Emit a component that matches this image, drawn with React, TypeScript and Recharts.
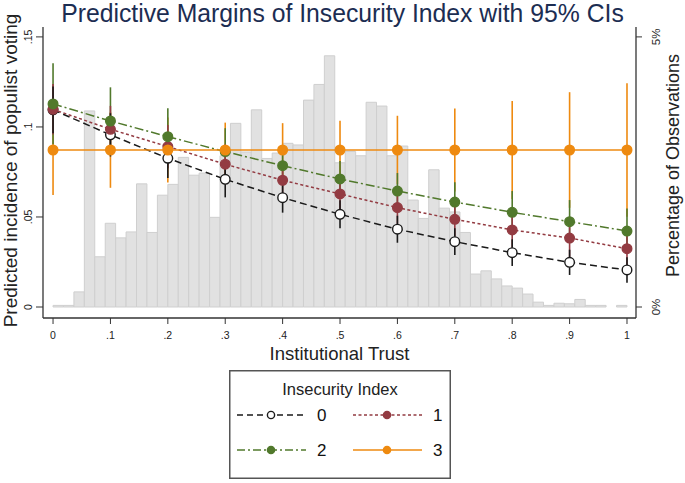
import React from 'react';
import { ComposedChart, Bar, Scatter, XAxis, YAxis, ErrorBar, Legend } from 'recharts';

// institutional trust grid where margins were computed
const trust = [0, 0.1, 0.2, 0.3, 0.4, 0.5, 0.6, 0.7, 0.8, 0.9, 1];

// predicted margins by insecurity index level
const idx0 = [0.1095, 0.0956, 0.0826, 0.0709, 0.0607, 0.0515, 0.0432, 0.0363, 0.0302, 0.0248, 0.0206];
const idx1 = [0.1098, 0.0987, 0.0891, 0.0793, 0.0704, 0.0628, 0.0552, 0.0487, 0.0428, 0.0383, 0.0324];
const idx2 = [0.1128, 0.1033, 0.0946, 0.0863, 0.0785, 0.0711, 0.0644, 0.0583, 0.0526, 0.0474, 0.0422];
const idx3 = [0.0872, 0.0872, 0.0872, 0.0872, 0.0872, 0.0872, 0.0872, 0.0872, 0.0872, 0.0872, 0.0872];

// half widths of the 95% CIs
const ci0 = [0.013, 0.012, 0.011, 0.01, 0.0083, 0.0078, 0.0075, 0.0074, 0.0074, 0.007, 0.0071];
const ci1 = [0.014, 0.013, 0.012, 0.011, 0.01, 0.009, 0.009, 0.0095, 0.01, 0.011, 0.012];
const ci2 = [0.0226, 0.0187, 0.0158, 0.013, 0.011, 0.01, 0.01, 0.011, 0.0118, 0.012, 0.0125];
const ci3 = [0.025, 0.021, 0.018, 0.0152, 0.0149, 0.0163, 0.019, 0.023, 0.0272, 0.0321, 0.0371];

// histogram of institutional trust, 55 bins on [0,1], percent of observations
const histPct = [
  0.03, 0.03, 0.28, 3.63, 0.93, 1.55, 1.28, 1.39, 2.28, 1.38,
  2.07, 2.27, 2.77, 2.44, 2.48, 1.66, 2.8, 3.4, 2.87, 3.65,
  2.75, 2.85, 3.03, 3.0, 3.83, 4.12, 4.65, 2.67, 2.88, 2.8,
  3.79, 3.72, 2.8, 2.98, 1.98, 1.64, 2.54, 1.83, 1.76, 1.38,
  0.61, 0.67, 0.52, 0.39, 0.35, 0.24, 0.09, 0.03, 0.07, 0.06,
  0.14, 0.03, 0.03, 0, 0.03,
];

const xTickLabels = ['0', '.1', '.2', '.3', '.4', '.5', '.6', '.7', '.8', '.9', '1'];
const yTicks = [0, 0.05, 0.1, 0.15];
const yTickLabels = ['0', '.05', '.1', '.15'];
const pctTicks = [0, 5];

const FONT = '"Liberation Sans", Arial, sans-serif';
const X_DOMAIN = [-0.0175, 1.0157];
const Y_DOMAIN = [-0.0061, 0.1555];
const P_DOMAIN = [-0.0061 / 0.03, 0.1555 / 0.03];

const BLACK = '#1a1a1a';
const RED = '#933b42';
const GREEN = '#51792c';
const ORANGE = '#ee8a10';

const histRows = histPct.map((pct, i) => ({ x: (i + 0.5) / histPct.length, pct }));
const mk = (ys: number[], cis: number[]) => trust.map((x, i) => ({ x, y: ys[i], ci: cis[i] }));
const d0 = mk(idx0, ci0);
const d1 = mk(idx1, ci1);
const d2 = mk(idx2, ci2);
const d3 = mk(idx3, ci3);

const noShape = () => <g />;
const dot = (fill: string, stroke: string, r: number) => (p: any) => (
  <circle cx={p.cx} cy={p.cy} r={r} fill={fill} stroke={stroke} strokeWidth={1.4} />
);

const XTick = (p: any) => {
  const i = trust.indexOf(p.payload.value);
  return (
    <text x={p.x} y={p.y + 13} textAnchor="middle" fontSize={10.5} fill="#222" fontFamily={FONT}>
      {xTickLabels[i]}
    </text>
  );
};

const LeftTick = (p: any) => {
  const i = yTicks.indexOf(p.payload.value);
  return (
    <text transform={`translate(32,${p.y}) rotate(-90)`} textAnchor="middle" fontSize={10.5} fill="#222" fontFamily={FONT}>
      {yTickLabels[i]}
    </text>
  );
};

const RightTick = (p: any) => (
  <text transform={`translate(660,${p.y}) rotate(-90)`} textAnchor="middle" fontSize={11.5} fill="#222" fontFamily={FONT}>
    {p.payload.value + '%'}
  </text>
);

const sample = (x: number, y: number, color: string, dash: string | undefined, fill: string) => (
  <g>
    <line x1={x} y1={y} x2={x + 69} y2={y} stroke={color} strokeWidth={1.5} strokeDasharray={dash} />
    <circle cx={x + 34} cy={y} r={3.6} fill={fill} stroke={color} strokeWidth={1.4} />
  </g>
);

const LegendBox = () => (
  <svg width={222} height={109} style={{ display: 'block' }}>
    <rect x={0.75} y={0.75} width={220.5} height={107.5} fill="#fff" stroke="#555" strokeWidth={1.5} />
    <text x={111} y={25} textAnchor="middle" fontSize={16.5} fill="#222" fontFamily={FONT}>Insecurity Index</text>
    {sample(8, 45, BLACK, '6 4', '#fff')}
    <text x={88} y={51} fontSize={17} fill="#111" fontFamily={FONT}>0</text>
    {sample(124, 45, RED, '3 2.5', RED)}
    <text x={204} y={51} fontSize={17} fill="#111" fontFamily={FONT}>1</text>
    {sample(8, 80, GREEN, '8 3 2 3', GREEN)}
    <text x={88} y={86} fontSize={17} fill="#111" fontFamily={FONT}>2</text>
    {sample(124, 80, ORANGE, undefined, ORANGE)}
    <text x={204} y={86} fontSize={17} fill="#111" fontFamily={FONT}>3</text>
  </svg>
);

export default function App() {
  return (
    <div style={{ position: 'absolute', left: 0, top: 0, width: 685, height: 483, background: '#fff', fontFamily: FONT }}>
      <div style={{ position: 'absolute', left: 0, top: 0, width: 685, textAlign: 'center', fontSize: 25, lineHeight: '26px', color: '#1c2d52', fontFamily: FONT, transform: 'scaleX(0.99)' }}>
        Predictive Margins of Insecurity Index with 95% CIs
      </div>
      <ComposedChart width={685} height={483} data={histRows} margin={{ top: 27, right: 0, bottom: 125, left: 0 }} barCategoryGap={0} barGap={0}>
        <XAxis xAxisId="top" orientation="top" type="number" dataKey="x" domain={X_DOMAIN} allowDataOverflow height={0} tick={false} tickLine={false} axisLine={{ stroke: '#d2d2d2' }} />
        <XAxis xAxisId="h" type="number" dataKey="x" domain={X_DOMAIN} allowDataOverflow hide />
        <XAxis
          xAxisId="b"
          type="number"
          dataKey="x"
          domain={X_DOMAIN}
          allowDataOverflow
          ticks={trust}
          interval={0}
          height={40}
          tickSize={6}
          tick={XTick}
          axisLine={{ stroke: '#333', strokeWidth: 1.3 }}
          tickLine={{ stroke: '#333' }}
          label={{ value: 'Institutional Trust', position: 'center', dy: 15, fontSize: 18.5, fill: '#222', fontFamily: FONT }}
        />
        <YAxis
          yAxisId="m"
          type="number"
          domain={Y_DOMAIN}
          allowDataOverflow
          ticks={yTicks}
          interval={0}
          width={43}
          tickSize={7}
          tick={LeftTick}
          axisLine={{ stroke: '#333', strokeWidth: 1.3 }}
          tickLine={{ stroke: '#333' }}
          label={{ value: 'Predicted incidence of populist voting', angle: -90, position: 'center', dx: -11, dy: -2, fontSize: 19, fill: '#222', fontFamily: FONT }}
        />
        <YAxis
          yAxisId="p"
          orientation="right"
          type="number"
          domain={P_DOMAIN}
          allowDataOverflow
          ticks={pctTicks}
          interval={0}
          width={49}
          tickSize={6}
          tick={RightTick}
          axisLine={{ stroke: '#333', strokeWidth: 1.3 }}
          tickLine={{ stroke: '#333' }}
          label={{ value: 'Percentage of Observations', angle: -90, position: 'center', dx: 12, dy: -7, fontSize: 18, fill: '#222', fontFamily: FONT }}
        />
        <Bar xAxisId="h" yAxisId="p" dataKey="pct" barSize={10.4} fill="#e1e1e1" stroke="#cfcfcf" strokeWidth={1} isAnimationActive={false} />

        {/* confidence intervals */}
        <Scatter xAxisId="b" yAxisId="m" data={d3} dataKey="y" shape={noShape} isAnimationActive={false}>
          <ErrorBar dataKey="ci" direction="y" width={0} stroke={ORANGE} strokeWidth={1.6} />
        </Scatter>
        <Scatter xAxisId="b" yAxisId="m" data={d2} dataKey="y" shape={noShape} isAnimationActive={false}>
          <ErrorBar dataKey="ci" direction="y" width={0} stroke={GREEN} strokeWidth={1.6} />
        </Scatter>
        <Scatter xAxisId="b" yAxisId="m" data={d1} dataKey="y" shape={noShape} isAnimationActive={false}>
          <ErrorBar dataKey="ci" direction="y" width={0} stroke={RED} strokeWidth={1.6} />
        </Scatter>
        <Scatter xAxisId="b" yAxisId="m" data={d0} dataKey="y" shape={noShape} isAnimationActive={false}>
          <ErrorBar dataKey="ci" direction="y" width={0} stroke={BLACK} strokeWidth={1.6} />
        </Scatter>

        {/* margins */}
        <Scatter xAxisId="b" yAxisId="m" data={d0} dataKey="y" line={{ stroke: BLACK, strokeWidth: 1.5, strokeDasharray: '7 4' }} lineType="joint" shape={dot('#fff', BLACK, 4.8)} isAnimationActive={false} />
        <Scatter xAxisId="b" yAxisId="m" data={d1} dataKey="y" line={{ stroke: RED, strokeWidth: 1.5, strokeDasharray: '3 2.5' }} lineType="joint" shape={dot(RED, RED, 4.8)} isAnimationActive={false} />
        <Scatter xAxisId="b" yAxisId="m" data={d2} dataKey="y" line={{ stroke: GREEN, strokeWidth: 1.5, strokeDasharray: '9 3 2 3' }} lineType="joint" shape={dot(GREEN, GREEN, 4.8)} isAnimationActive={false} />
        <Scatter xAxisId="b" yAxisId="m" data={d3} dataKey="y" line={{ stroke: ORANGE, strokeWidth: 1.6 }} lineType="joint" shape={dot(ORANGE, ORANGE, 4.8)} isAnimationActive={false} />

        <Legend layout="horizontal" verticalAlign="middle" align="center" wrapperStyle={{ left: 229, top: 370, width: 222, height: 109 }} content={() => <LegendBox />} />
      </ComposedChart>
    </div>
  );
}
